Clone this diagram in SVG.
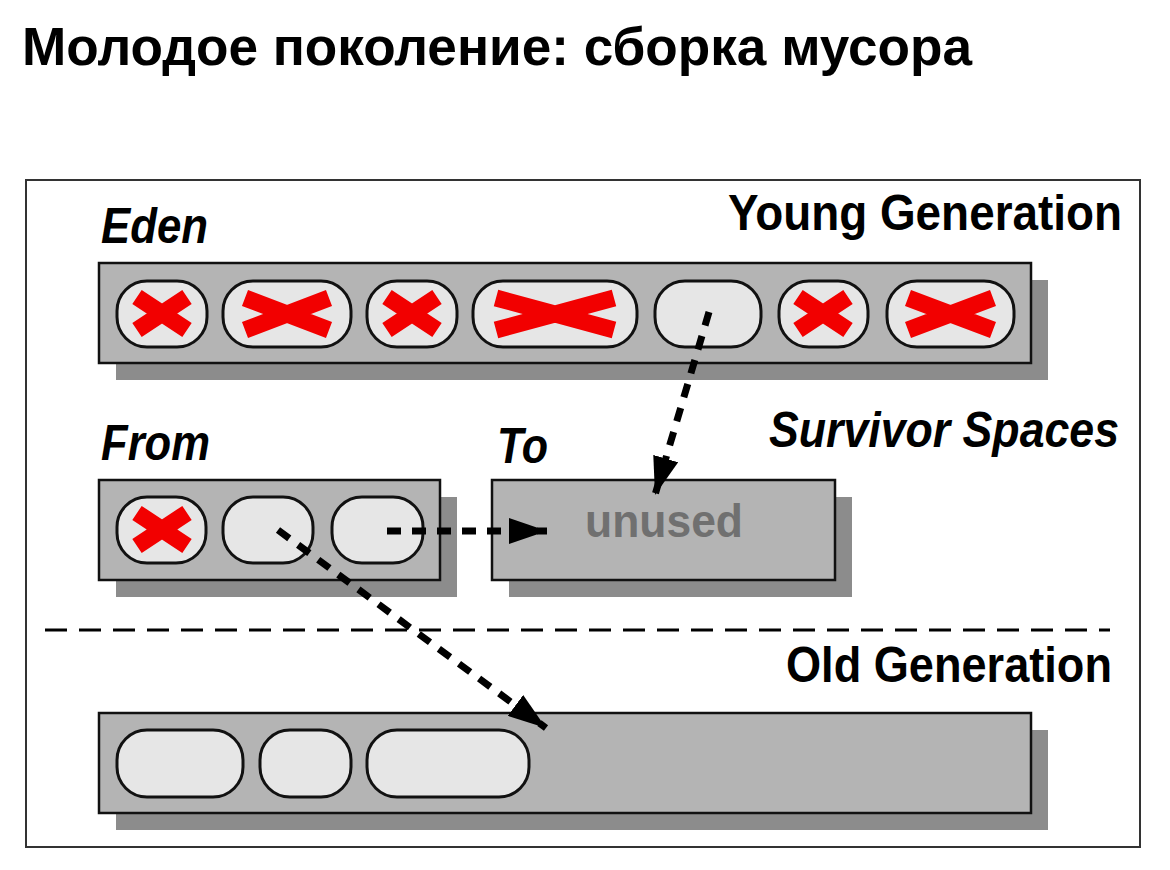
<svg xmlns="http://www.w3.org/2000/svg" width="1170" height="870" viewBox="0 0 1170 870">
<style>
text{font-family:"Liberation Sans",Arial,sans-serif;font-weight:bold;fill:#000}
.lbl{font-size:50px}
.it{font-style:italic}
.bar{fill:#B4B4B4;stroke:#111;stroke-width:2.5}
.sh{fill:#8C8C8C}
.cell{fill:#E6E6E6;stroke:#111;stroke-width:3}
.x{stroke:#F20000;stroke-width:17;stroke-linecap:butt}
.arr{stroke:#000;stroke-width:7;stroke-dasharray:14 11;fill:none}
</style>
<defs>
<marker id="ah" markerUnits="userSpaceOnUse" markerWidth="38" markerHeight="26" viewBox="0 0 38 26" refX="38" refY="13" orient="auto">
<path d="M0,0 L38,13 L0,26 z" fill="#000"/>
</marker>
</defs>
<rect width="1170" height="870" fill="#fff"/>
<text x="22" y="65" font-size="53" textLength="950" lengthAdjust="spacingAndGlyphs">Молодое поколение: сборка мусора</text>
<rect id="frame" x="26" y="180" width="1114" height="667" fill="#fff" stroke="#333" stroke-width="2"/>
<g id="labels">
<text class="lbl it" x="101" y="243" textLength="107" lengthAdjust="spacingAndGlyphs">Eden</text>
<text class="lbl" x="728" y="230" textLength="394" lengthAdjust="spacingAndGlyphs">Young Generation</text>
<text class="lbl it" x="769" y="447" textLength="350" lengthAdjust="spacingAndGlyphs">Survivor Spaces</text>
<text class="lbl it" x="101" y="460" textLength="109" lengthAdjust="spacingAndGlyphs">From</text>
<text class="lbl it" x="497" y="463" textLength="51" lengthAdjust="spacingAndGlyphs">To</text>
<text class="lbl" x="786" y="682" textLength="326" lengthAdjust="spacingAndGlyphs">Old Generation</text>
</g>
<g id="eden">
<rect class="sh" x="116" y="280" width="932" height="100"/>
<rect class="bar" x="99" y="263" width="932" height="100"/>
<rect class="cell" x="117" y="281" width="90" height="66" rx="30"/>
<rect class="cell" x="223" y="281" width="128" height="66" rx="30"/>
<rect class="cell" x="367" y="281" width="90" height="66" rx="30"/>
<rect class="cell" x="473" y="281" width="164" height="66" rx="30"/>
<rect class="cell" x="655" y="281" width="106" height="66" rx="30"/>
<rect class="cell" x="779" y="281" width="89" height="66" rx="30"/>
<rect class="cell" x="887" y="281" width="127" height="66" rx="30"/>
<path class="x" d="M137,297 L187,330 M137,330 L187,297"/>
<path class="x" d="M245,298 L329,330 M245,330 L329,298"/>
<path class="x" d="M387,297 L437,330 M387,330 L437,297"/>
<path class="x" d="M496,298 L614,330 M496,330 L614,298"/>
<path class="x" d="M798,297 L848,330 M798,330 L848,297"/>
<path class="x" d="M908,298 L993,330 M908,330 L993,298"/>
</g>
<g id="from">
<rect class="sh" x="116" y="497" width="341" height="100"/>
<rect class="bar" x="99" y="480" width="341" height="100"/>
<rect class="cell" x="117" y="497" width="89" height="66" rx="30"/>
<rect class="cell" x="223" y="497" width="90" height="66" rx="30"/>
<rect class="cell" x="332" y="497" width="91" height="66" rx="30"/>
<path class="x" d="M137,513 L187,546 M137,546 L187,513"/>
</g>
<g id="to">
<rect class="sh" x="509" y="497" width="343" height="100"/>
<rect class="bar" x="492" y="480" width="343" height="100"/>
<text x="664" y="537" font-size="46" style="fill:#707070" text-anchor="middle" textLength="158" lengthAdjust="spacingAndGlyphs">unused</text>
</g>
<g id="old">
<rect class="sh" x="116" y="730" width="932" height="100"/>
<rect class="bar" x="99" y="713" width="932" height="100"/>
<rect class="cell" x="117" y="730" width="126" height="67" rx="30"/>
<rect class="cell" x="260" y="730" width="91" height="67" rx="30"/>
<rect class="cell" x="367" y="730" width="162" height="67" rx="30"/>
</g>
<line id="separator" x1="45" y1="630" x2="1110" y2="630" stroke="#000" stroke-width="3" stroke-dasharray="22 12"/>
<g id="connectors">
<line class="arr" x1="709" y1="312" x2="655" y2="495" marker-end="url(#ah)"/>
<line class="arr" x1="387" y1="531" x2="547" y2="531" marker-end="url(#ah)"/>
<line class="arr" x1="278" y1="530" x2="546" y2="728" marker-end="url(#ah)"/>
</g>
</svg>
